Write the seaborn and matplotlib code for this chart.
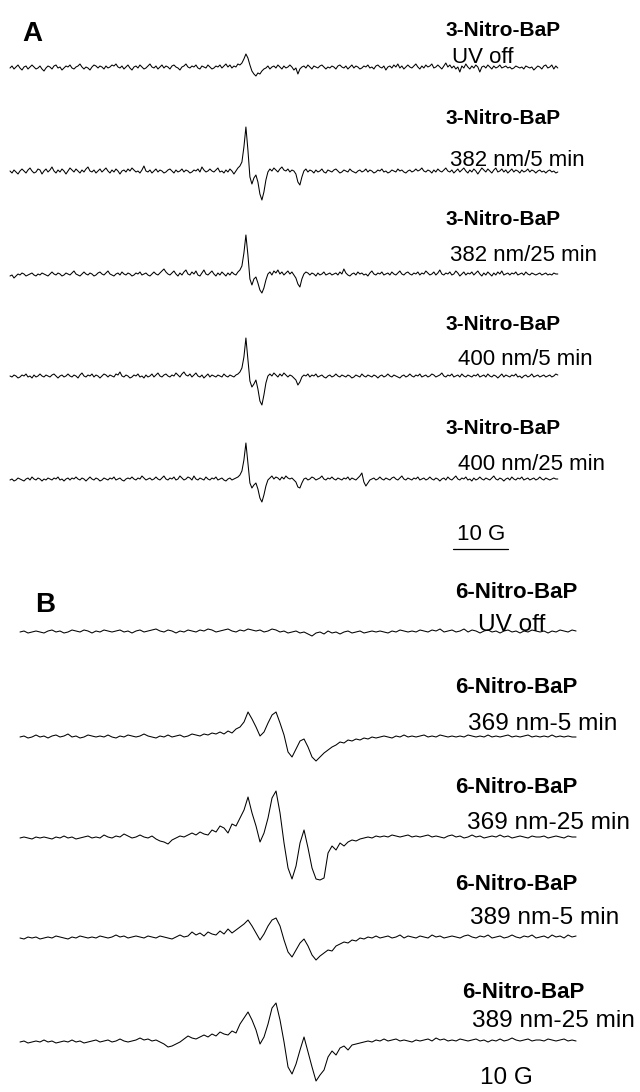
import numpy as np
import pandas as pd
import matplotlib
matplotlib.use("Agg")
import matplotlib.pyplot as plt
import seaborn as sns

# ---------------------------------------------------------------------------
# EPR spectra (first-derivative signal, arbitrary units) recorded on a
# regular field grid.  Panel A: 3-Nitro-BaP, panel B: 6-Nitro-BaP.
# ---------------------------------------------------------------------------
SWEEP_A = 99.6   # G, field span of the panel A sweeps
SWEEP_B = 101.1  # G, field span of the panel B sweeps

compound_a = "3-Nitro-BaP"
conditions_a = ["UV off", "382 nm/5 min", "382 nm/25 min", "400 nm/5 min", "400 nm/25 min"]

a_uv_off = [
    0, 2, -1, 1, 3, 0, -2, 1, 2, -1,
    1, 3, 1, -1, 0, 2, -1, -3, 0, 2,
    1, -1, 2, 3, 0, 1, -2, 0, 2, 1,
    3, 0, -1, 1, 2, 4, 1, -1, 1, 0,
    -2, 1, 3, 2, 0, 2, 1, -1, 2, 0,
    1, 3, 2, 4, 1, 0, 2, -1, 1, 3,
    0, -2, 1, 2, 0, 3, 1, -1, 0, 2,
    4, 1, 0, 2, -1, 1, 3, 0, 2, 1,
    -1, 2, 3, 1, 0, -2, 1, 2, 4, 1,
    0, 2, 1, 3, 0, -1, 2, 1, 0, 3,
    1, -1, 0, 2, 1, 3, 0, 2, 4, 1,
    3, 0, 2, 1, 4, 3, 5, 9, 14, 10,
    3, -3, -6, -8, -5, -6, -3, -1, 0, 2,
    -1, 1, 2, 0, 3, 1, -1, 2, 0, 1,
    3, 1, -2, 0, -6, -1, 1, 2, 0, 3,
    1, -1, 2, 1, 0, 2, 3, 1, -1, 1,
    0, 2, 1, -1, 2, 3, 1, 0, 2, -1,
    1, 3, 0, 2, 1, -1, 0, 2, 1, 3,
    0, 1, -1, 2, 3, 1, 0, 2, -2, 1,
    2, 0, 3, 1, 4, 0, 2, -1, 1, 3,
    1, 0, 2, 4, 1, -1, 2, 0, 3, 1,
    2, 4, 0, 1, 3, 1, -1, 2, 5, 1,
    3, 0, 2, -1, 1, -4, 2, 0, 4, 1,
    -1, 2, 0, 3, 1, -4, 1, 2, 0, 3,
    1, -1, 2, 0, 1, 3, 0, 1, 2, 0,
    1, -1, 0, 2, 1, 0, 1, -1, 2, 1,
    0, 1, -2, 0, 2, 1, -1, 2, 3, 0,
    1, 3, -1, 2, 0,
]
a_382_5 = [
    1, -1, 2, 0, -2, 1, 3, 1, -1, 2,
    4, 1, -1, 0, 3, 2, -2, 1, 3, 0,
    2, 5, 1, -1, 2, 0, 3, 1, -2, 1,
    4, 2, 0, 3, 1, -1, 2, 0, 3, 5,
    1, 0, 2, -1, 1, 3, 0, 2, 4, 1,
    -1, 2, 0, 3, 1, -2, 1, 2, 0, 3,
    1, 4, 2, 0, 1, -1, 2, 6, 1, 0,
    2, -1, 1, 3, 0, 2, 1, -1, 0, 2,
    3, 1, -1, 2, 0, 1, 3, 0, 2, 1,
    -1, 0, 2, 1, 3, 0, 5, 2, 0, 1,
    3, 1, 0, 2, 4, 0, 1, -1, 2, 0,
    3, 1, -2, 1, 4, 6, 10, 25, 45, 22,
    -5, -12, -6, -3, -10, -22, -28, -20, -8, 0,
    3, 1, 4, 2, 0, 3, 5, 2, 1, 3,
    0, 2, 1, -2, -10, -13, -5, 1, 3, 0,
    2, 1, -1, 2, 0, 1, 3, 0, -1, 2,
    1, 0, 2, 3, 1, -1, 0, 2, 1, 0,
    3, 1, 0, -1, 1, 2, 0, 1, 3, 0,
    2, 1, -1, 0, 2, 1, 3, 0, 1, -1,
    0, 2, 1, 0, 3, 1, 2, 0, -1, 1,
    2, 0, 1, 3, 1, 2, 4, 1, 0, 2,
    1, -1, 2, 0, 3, 1, 0, 2, 4, 1,
    0, 2, -1, 1, 3, 0, 2, 4, 1, -1,
    2, 0, 3, 1, -2, 1, 4, 2, 0, 3,
    1, -1, 2, 4, 0, 1, 3, 0, 2, -1,
    1, 3, 0, 2, 1, -1, 2, 0, 1, 3,
    0, 2, 1, -1, 1, 2, 0, 1, -1, 1,
    2, 0, 1, -1, 0,
]
a_382_25 = [
    -1, 0, -3, -1, 1, 0, 2, 1, -1, 0,
    1, 2, 0, -1, 1, 0, 2, 1, 0, -1,
    1, 3, 1, 0, 2, 1, -1, 0, 2, 1,
    0, 2, 4, 1, 0, -1, 1, 3, 1, 0,
    2, 1, -1, 0, 2, 3, 1, 0, 2, 4,
    1, 0, -1, 1, 2, 0, 3, 1, 0, 2,
    1, -1, 0, 2, 1, 3, 0, 1, 2, 0,
    -1, 1, 3, 1, 0, 2, 4, 6, 3, 1,
    0, 2, 4, 1, -1, 2, 0, 3, 5, 1,
    0, 3, 1, 4, 0, -1, 2, 5, 1, 0,
    2, 4, 1, -1, 2, 0, 3, 1, -1, 2,
    0, 3, 1, 0, 3, 5, 9, 22, 40, 20,
    -4, -10, -4, -2, -8, -15, -18, -13, -5, 1,
    3, 0, 4, 2, 5, 1, 3, 0, 2, 4,
    1, 3, 0, -3, -9, -12, -4, 1, 3, 2,
    0, 2, 1, -1, 2, 0, 1, 3, 0, 1,
    2, 0, 1, 2, 0, 3, 1, 6, 2, 0,
    -1, 1, 2, 0, 3, 1, 2, 0, 1, -1,
    2, 4, 1, 0, 2, 1, 3, 0, 1, 2,
    0, 3, 1, 0, 2, 4, 1, 0, 2, 3,
    1, 0, 2, 1, 3, 0, 2, 1, 4, 2,
    0, 1, 3, 0, 2, 5, 1, 0, 2, 1,
    3, 0, 1, 4, 2, -1, 1, 3, 0, 2,
    1, 3, 0, 2, 4, 1, -1, 2, 0, 3,
    1, -1, 2, 0, 3, 1, 4, 0, 1, 2,
    0, 2, 1, 3, 0, 1, 2, 0, 3, 1,
    0, 2, 1, 0, 1, 2, 0, 1, 2, 0,
    1, 0, 2, 1, 1,
]
a_400_5 = [
    1, 0, 2, 1, -1, 0, 2, 1, 3, 0,
    1, -1, 2, 0, 1, 3, 1, 0, 2, 1,
    0, 2, 3, 1, -1, 1, 2, 0, 1, 3,
    1, 0, 2, 1, -1, 2, 4, 1, 0, 2,
    1, 3, 0, 2, 1, -1, 1, 3, 2, 0,
    2, 1, 0, 3, 2, 5, 1, 0, 2, 1,
    -1, 0, 2, 1, 3, 0, 1, -1, 2, 0,
    1, 3, 0, 2, 4, 1, 0, 2, 3, 1,
    0, 2, 1, 4, 2, 0, 3, 5, 2, 1,
    3, 0, 2, 4, 1, 0, 2, -1, 1, 3,
    0, 2, 1, 0, 2, 1, 0, 3, 1, 0,
    2, 1, 0, 2, 3, 5, 9, 20, 39, 18,
    -4, -10, -7, -3, -12, -24, -28, -18, -6, 1,
    3, 1, 4, 2, 0, 3, 1, 4, 2, 0,
    2, 1, -1, -3, -8, -5, 0, 2, 1, 3,
    0, 2, 1, 3, 0, 1, 2, 0, -1, 1,
    2, 0, 1, 3, 1, 0, 2, 1, 0, 2,
    1, -1, 0, 2, 1, 0, 3, 1, 0, 2,
    1, 0, 2, 1, -1, 1, 2, 0, 1, 3,
    1, 0, 2, 1, 0, -1, 1, 2, 0, 1,
    3, 1, 0, 2, 1, 3, 0, 1, 2, 0,
    1, 3, 2, 0, 1, 2, 4, 1, 0, 2,
    1, 3, 0, 1, 2, 0, 3, 1, 0, 2,
    1, 0, 2, 1, 3, 0, 1, 2, 0, 3,
    1, 0, 2, 1, -1, 1, 3, 0, 2, 1,
    0, 2, 1, 3, 0, 1, -1, 1, 2, 0,
    1, 3, 0, 1, 2, 0, 1, 2, 0, 1,
    2, 0, 1, 3, 2,
]
a_400_25 = [
    0, 1, -1, 0, 2, 1, 0, -1, 1, 2,
    0, 3, 1, 0, 2, 1, -1, 1, 0, 2,
    1, 0, 2, 1, 3, 0, 1, -1, 1, 2,
    0, 2, 1, 3, 1, 0, 2, 1, -1, 1,
    3, 1, 0, 2, 1, -1, 0, 2, 1, 0,
    2, 1, 3, 0, 1, 2, 0, -1, 1, 2,
    1, 3, 1, 0, 2, 1, 4, 2, 0, 1,
    2, 0, 1, 3, 1, 0, 2, 4, 1, 0,
    2, 1, 3, 0, 1, 4, 2, 0, 1, 3,
    2, 0, 4, 1, 0, 2, 1, 0, 3, 1,
    0, 2, 1, 3, 0, 1, 2, 0, -1, 1,
    2, 0, 1, 2, 3, 5, 9, 20, 37, 17,
    -3, -8, -5, -3, -9, -18, -22, -15, -6, 0,
    2, 4, 1, 3, 2, 0, 3, 1, 4, 2,
    1, 2, 0, -2, -7, -8, -3, 1, 2, 0,
    1, 3, 2, 0, 1, 2, 4, 1, 0, 2,
    1, 3, 1, 0, 2, 1, 0, 2, 1, 3,
    0, 2, 1, 0, 2, 4, 7, -2, -6, -3,
    0, 1, 2, 0, 1, 3, 1, 0, 2, 1,
    0, 2, 3, 1, 0, 2, 4, 1, 0, 2,
    1, 0, 2, 1, 3, 0, 1, 2, 0, 1,
    3, 1, 0, 2, 1, -1, 1, 2, 0, 3,
    1, 0, 2, 4, 1, 0, 2, 1, 3, 0,
    1, -1, 2, 0, 1, 3, 1, 0, 2, 1,
    0, 2, 4, 1, 0, 2, 1, -1, 1, 2,
    0, 3, 1, 0, 2, 1, 3, 0, 1, 2,
    0, 1, 2, 0, 1, 3, 1, 0, 2, 1,
    0, 1, 2, 1, 1,
]

compound_b = "6-Nitro-BaP"
conditions_b = ["UV off", "369 nm-5 min", "369 nm-25 min", "389 nm-5 min", "389 nm-25 min"]

b_uv_off = [
    0, 1, -1, 0, 1, 0, -1, 1, 2, 0,
    1, -1, 0, 2, 1, 0, 2, 1, -1, 1,
    0, 2, 1, 0, 1, 2, 0, 1, -1, 1,
    2, 0, 1, 2, 3, 1, 0, 2, 1, -1,
    1, 0, 2, 1, 0, 2, 1, 3, 2, 0,
    1, 2, 3, 1, 0, 2, 1, 3, 2, 1,
    2, 0, 1, 3, 2, 0, 1, -1, 0, 1,
    -1, 0, -2, -4, -1, 0, -2, 1, -1, 0,
    -2, 0, 1, -1, 0, 1, -1, 0, 1, 0,
    1, 0, -1, 1, 0, 2, 1, 0, 1, 0,
    2, 1, 0, 2, 1, 3, 0, 1, 2, 0,
    1, 3, 0, 2, 1, -1, 1, 2, 0, 1,
    -1, 1, 2, 0, 1, -1, 1, 0, 2, 1,
    0, 1, -1, 1, 0, 2, 1, 0, 2, 1,
]
b_369_5 = [
    0, 1, -1, 0, 2, 0, 1, -1, 1, 2,
    0, 1, 3, 0, 1, -1, 0, 2, 1, 0,
    1, 0, 2, 0, -1, 1, 0, 2, 1, 0,
    1, 3, 1, 0, -1, 1, 0, 2, 0, 1,
    2, 0, 1, 3, 2, 1, 3, 2, 4, 3,
    5, 3, 6, 4, 8, 10, 15, 25, 18, 10,
    1, 5, 14, 22, 25, 14, 2, -15, -20, -12,
    -4, -2, -10, -20, -24, -20, -16, -13, -10, -8,
    -5, -6, -3, -4, -2, -3, -1, -2, 0, -1,
    0, 1, 0, -1, 1, 0, 2, 0, 1, 0,
    1, 2, 0, 1, 0, 2, 1, 0, 1, 0,
    1, 0, 2, 1, 0, 1, 0, 2, 0, 1,
    0, 1, 2, 0, 1, 0, 1, 2, 0, 1,
    0, 1, 0, 2, 0, 1, 0, 1, 0, 0,
]
b_369_25 = [
    0, 1, 0, -1, 1, 0, 1, 0, -1, 1,
    0, 2, 0, 1, -1, 0, 1, 2, 0, 1,
    0, 3, 1, 0, 2, 1, 4, 2, 0, 1,
    3, 1, 0, 2, -1, -3, -4, -6, -2, 0,
    2, 1, 3, 5, 3, 6, 4, 3, 8, 6,
    12, 10, 5, 14, 12, 20, 28, 41, 25, 12,
    -4, 5, 20, 40, 47, 25, -5, -30, -41, -28,
    -5, 8, -10, -30, -41, -42, -40, -15, -8, -12,
    -5, -8, -4, -2, -3, -1, 0, 1, 0, 2,
    1, 2, 1, 3, 2, 1, 2, 3, 1, 2,
    1, 2, 3, 1, 2, 1, 0, 2, 3, 1,
    2, 0, 1, 3, 1, 2, 0, 1, 2, 1,
    3, 1, 2, 0, 1, 2, 1, 0, 2, 1,
    1, 2, 0, 1, 2, 1, 0, 2, 1, 1,
]
b_389_5 = [
    0, -1, 1, 0, 1, -1, 0, 1, 0, 2,
    1, 0, -1, 1, 0, 2, 1, 0, 1, 0,
    2, 1, 0, 1, 3, 1, 2, 0, 1, 2,
    1, 0, 2, 1, 0, 2, 1, 0, -1, 1,
    3, 1, 2, 6, 3, 5, 2, 6, 4, 3,
    7, 4, 9, 5, 8, 11, 14, 18, 12, 5,
    -2, 4, 12, 18, 20, 12, -2, -14, -19, -12,
    -5, -1, -8, -17, -22, -18, -15, -12, -13, -8,
    -6, -4, -5, -2, -3, 0, -1, 1, 0, 2,
    0, 1, 2, 0, 1, 3, 0, 2, 1, 0,
    2, 1, 0, 3, 1, 2, 0, 1, 2, 1,
    0, 2, 3, 1, 0, 2, 1, 3, 0, 1,
    2, 0, 1, 3, 1, 0, 2, 1, 3, 0,
    1, 2, 0, 3, 1, 2, 0, 3, 1, 2,
]
b_389_25 = [
    0, 1, -1, 0, 1, 0, 2, 0, 1, -1,
    0, 1, 0, 2, 0, 1, -1, 0, 1, 2,
    0, 1, 2, 0, 1, 3, 1, 0, 1, 2,
    4, 2, 3, 1, 2, 0, -2, -5, -4, -2,
    0, 3, 6, 4, 3, 5, 7, 5, 8, 6,
    10, 8, 7, 11, 9, 18, 24, 30, 22, 12,
    -2, 5, 18, 34, 39, 22, 0, -25, -32, -22,
    -8, 5, -10, -25, -39, -33, -28, -15, -9, -13,
    -6, -4, -8, -3, -2, -1, 0, 1, 0, 2,
    1, 3, 1, 2, 3, 1, 2, 1, 0, 2,
    1, 2, 3, 1, 4, 2, 3, 1, 2, 1,
    3, 2, 1, 2, 3, 1, 2, 0, 2, 1,
    3, 1, 2, 4, 2, 1, 2, 3, 1, 2,
    2, 1, 3, 2, 1, 2, 3, 1, 2, 1,
]

scale_bar_gauss = 10
scale_label = "10 G"

# ---------------------------------------------------------------------------
# Layout (pixels on a 640 x 1092 canvas)
# ---------------------------------------------------------------------------
W, H, DPI = 640, 1092, 100
PX_PER_G = 5.5

sns.set_theme(style="white")
plt.rcParams["font.family"] = ["Liberation Sans", "DejaVu Sans"]

fig = plt.figure(figsize=(W / DPI, H / DPI), dpi=DPI)
fig.patch.set_facecolor("white")


def panel_axes(x0_px):
    ax = fig.add_axes([0, 0, 1, 1])
    ax.set_xlim(-x0_px / PX_PER_G, (W - x0_px) / PX_PER_G)
    ax.set_ylim(H, 0)
    ax.set_axis_off()
    ax.patch.set_alpha(0)
    return ax


def draw_traces(ax, field, traces, baselines):
    for sig, base in zip(traces, baselines):
        df = pd.DataFrame({"field": field, "y": base - np.asarray(sig, float)})
        sns.lineplot(data=df, x="field", y="y", ax=ax, color="black",
                     linewidth=0.75, estimator=None, sort=False)


def label(x_px, cy_px, text, size, bold=False):
    em = size * DPI / 72.0
    fig.text(x_px / W, 1 - (cy_px + 0.36 * em) / H, text, fontsize=size,
             fontweight="bold" if bold else "normal", ha="left", va="baseline",
             color="black")


# Panel A
traces_a = [a_uv_off, a_382_5, a_382_25, a_400_5, a_400_25]
field_a = np.linspace(0, SWEEP_A, len(a_uv_off))
axA = panel_axes(10)
draw_traces(axA, field_a, traces_a, [68, 172, 275, 377, 480])
bar_start_a = 80.5
axA.plot([bar_start_a, bar_start_a + scale_bar_gauss], [549, 549], color="black", lw=0.9)

label(22, 31, "A", 20, bold=True)
bold_y_a = [29, 117, 218, 322, 427]
cond_pos_a = [(452, 55), (450, 158), (450, 253), (458, 357), (458, 462)]
for yb, (xc, yc), cond in zip(bold_y_a, cond_pos_a, conditions_a):
    label(445, yb, compound_a, 15, bold=True)
    label(xc, yc, cond, 16)
label(457, 532, scale_label, 16)

# Panel B
traces_b = [b_uv_off, b_369_5, b_369_25, b_389_5, b_389_25]
field_b = np.linspace(0, SWEEP_B, len(b_uv_off))
axB = panel_axes(20)
draw_traces(axB, field_b, traces_b, [632, 737, 838, 938, 1042])

label(35, 602, "B", 20, bold=True)
bold_pos_b = [(455, 590), (455, 685), (455, 785), (455, 882), (462, 990)]
cond_pos_b = [(478, 622), (468, 721), (467, 820), (470, 915), (472, 1018)]
for (xb, yb), (xc, yc), cond in zip(bold_pos_b, cond_pos_b, conditions_b):
    label(xb, yb, compound_b, 16, bold=True)
    label(xc, yc, cond, 17.6)
label(480, 1075, scale_label, 17.5)

fig.savefig("out.png", dpi=DPI, facecolor="white")
